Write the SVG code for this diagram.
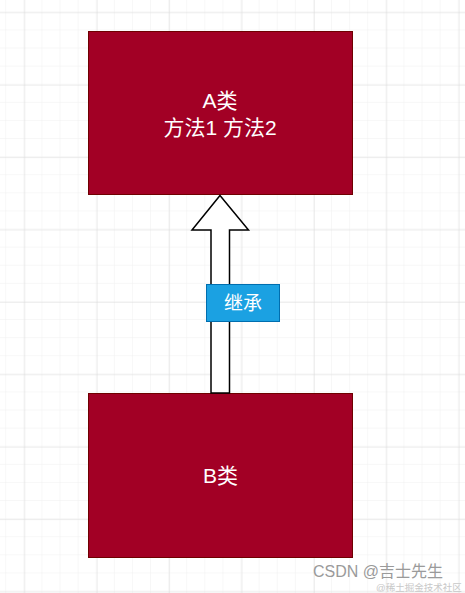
<svg xmlns="http://www.w3.org/2000/svg" width="465" height="593" viewBox="0 0 465 593">
<defs>
<pattern id="minor" x="6.2" y="12.3" width="18.1" height="18.1" patternUnits="userSpaceOnUse">
<path d="M18.1 0V18.1M0 18.1H18.1" fill="none" stroke="#f0f0f0" stroke-width="1"/>
</pattern>
<pattern id="major" x="24.3" y="12.3" width="72.4" height="72.4" patternUnits="userSpaceOnUse">
<path d="M0 0V72.4M0 0H72.4" fill="none" stroke="#dcdcdc" stroke-width="1"/>
</pattern>
</defs>
<style>
.node{fill:#a20025;stroke:#6f0000;stroke-width:1}
.nt{fill:#ffffff;font-family:"Liberation Sans","Noto Sans CJK SC",sans-serif;font-size:21px;text-anchor:middle}
.lbl{fill:#1ba1e2;stroke:#006eaf;stroke-width:1}
.lt{fill:#ffffff;font-family:"Liberation Sans","Noto Sans CJK SC",sans-serif;font-size:19px;text-anchor:middle}
</style>
<rect width="465" height="593" fill="#ffffff"/>
<rect width="465" height="593" fill="url(#minor)"/>
<rect width="465" height="593" fill="url(#major)"/>
<g id="nodeA">
<rect class="node" x="88.5" y="31.5" width="264" height="163"/>
<text class="nt" x="220" y="108">A类</text>
<text class="nt" x="220" y="135">方法1 方法2</text>
</g>
<g id="nodeB">
<rect class="node" x="88.5" y="393.5" width="264" height="164"/>
<text class="nt" x="220.5" y="483">B类</text>
</g>
<g id="connectors">
<path d="M220 195.5L248.5 230H229.5V393H211V230H192L220 195.5Z" fill="#ffffff" stroke="#000000" stroke-width="1.5" stroke-linejoin="miter"/>
<rect class="lbl" x="206.5" y="284.5" width="73" height="37"/>
<text class="lt" x="243" y="309.5">继承</text>
</g>
<g id="watermark" font-family="'Liberation Sans','Noto Sans CJK SC',sans-serif">
<text x="313" y="577" font-size="16" fill="#9a9a9a">CSDN @吉士先生</text>
<text x="376" y="591" font-size="9.5" fill="#c8c8c8">@稀土掘金技术社区</text>
</g>
</svg>
